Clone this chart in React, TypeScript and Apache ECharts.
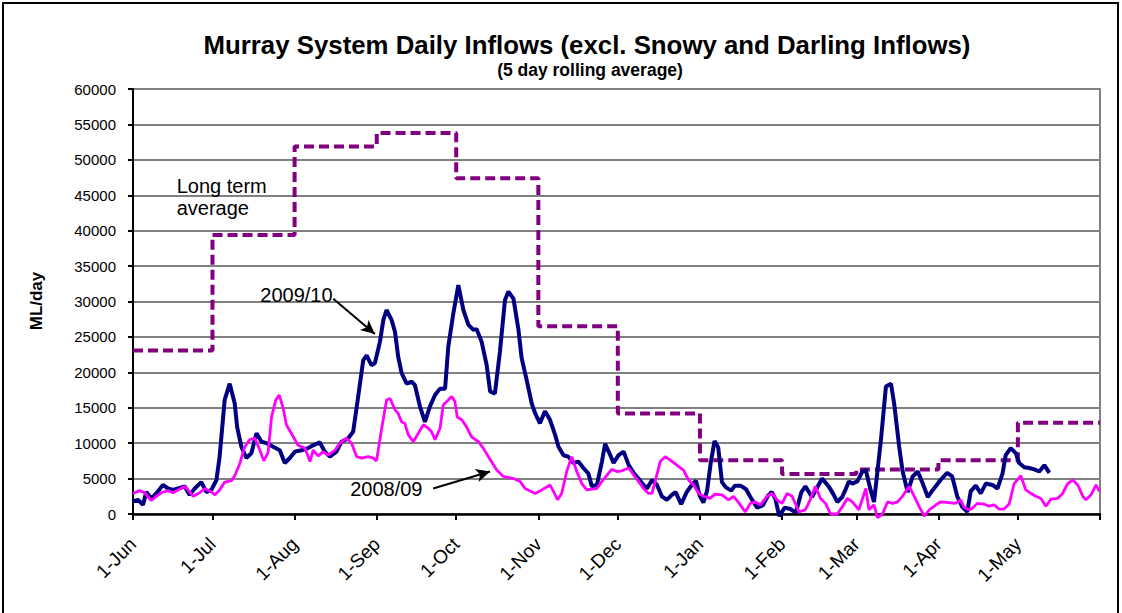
import React, { useEffect, useRef } from "react";
import * as echarts from "echarts";

const FONT = "'Liberation Sans', Arial, sans-serif";

const MONTHS = ["Jun", "Jul", "Aug", "Sep", "Oct", "Nov", "Dec", "Jan", "Feb", "Mar", "Apr", "May"];
const MONTH_DAYS = [30, 31, 31, 30, 31, 30, 31, 31, 28, 31, 30, 31];
const LTA_MONTHLY = [23100, 39400, 51900, 53800, 47400, 26500, 14200, 7600, 5650, 6300, 7600, 12900];

// [day since 1-Jun, ML/day]
const INFLOW_2009_10: [number, number][] = [
  [0, 1800], [1.9, 2000], [3.8, 1300], [5, 3100], [6.9, 2200], [8.8, 2900], [11.3, 4100], [13.2, 3600],
  [15.1, 3400], [17, 3600], [19.5, 3900], [21.4, 2700], [23.3, 3600], [25.8, 4500], [27.7, 3100], [29.6, 3400],
  [31.5, 4800], [32.7, 8100], [34.6, 16100], [36.5, 18400], [38.4, 15600], [39.3, 12300], [40.9, 9500], [42.8, 7900],
  [44.7, 8600], [46.6, 11400], [48.5, 10200], [50.4, 10000], [52.9, 9500], [55.4, 9000], [57.3, 7200], [59.2, 7900],
  [61.1, 8800], [63.6, 9000], [66.1, 9300], [68, 9700], [70.5, 10100], [72.4, 8800], [74.3, 8100], [76.8, 8800],
  [78.7, 10200], [81.2, 10700], [83.1, 11600], [85, 16600], [86.9, 21700], [88.2, 22400], [90, 21000], [91.3, 21300],
  [93.2, 24300], [94.5, 27400], [95.7, 28800], [97.6, 27400], [98.9, 25700], [100.1, 22200], [101.4, 19900], [103.3, 18400],
  [105.2, 18700], [106.4, 18200], [108.3, 15200], [110.2, 13000], [112.1, 15200], [114, 16800], [115.9, 17700], [117.8, 17700],
  [119, 23600], [120.9, 28300], [122.8, 32300], [124.7, 28800], [126.6, 26700], [128.5, 26000], [129.7, 26100], [131.6, 24300],
  [133.5, 21000], [134.8, 17300], [136.6, 17000], [138.5, 22900], [140.4, 30200], [141.7, 31400], [143.6, 30400], [145.5, 26000],
  [146.7, 22000], [148.6, 18900], [150.5, 15600], [151.8, 14200], [153.6, 12800], [155.5, 14500], [157.4, 13300], [159.3, 11200],
  [160.6, 9500], [162.5, 8300], [164.3, 8100], [166.2, 7200], [168.1, 7400], [170, 6500], [171.9, 5700], [173.2, 3900],
  [175.1, 4100], [177, 7400], [178.2, 9900], [179.8, 8600], [181.4, 7200], [183.3, 8300], [185.2, 8800], [187.1, 6900],
  [189, 5800], [190.8, 5000], [192.7, 4100], [194, 3600], [195.9, 4800], [197.8, 4100], [199.6, 2500], [201.5, 2000],
  [203.4, 2700], [204.8, 3100], [206.9, 1400], [209, 3100], [211.1, 4200], [212.5, 4700], [213.9, 2600], [215.3, 1600],
  [216.7, 3300], [218.1, 7300], [219.5, 10300], [220.9, 9400], [222.3, 4500], [223.7, 3800], [225.8, 3300], [227.2, 4000],
  [229.3, 4000], [231.4, 3500], [233.5, 2100], [235.6, 900], [237.7, 1200], [239.7, 2600], [241.1, 3100], [242.5, 2100],
  [243.9, -300], [246, 900], [248.1, 700], [250.2, 200], [252.3, 3100], [253.8, 3900], [256.3, 2400], [260.1, 5000],
  [262.6, 3900], [264.5, 2700], [265.8, 1700], [267.7, 2400], [268.9, 3400], [270.2, 4600], [271.5, 4300], [273.4, 4600],
  [275.3, 6000], [276.6, 6200], [278.4, 3400], [279.7, 1700], [282.3, 10400], [284.2, 18000], [286.1, 18400], [287.3, 15600],
  [289.2, 9500], [290.5, 6000], [292.4, 3100], [294.3, 5300], [296.2, 6000], [298.1, 4300], [300, 2400], [301.9, 3400],
  [303.8, 4300], [304.8, 4800], [307.3, 5800], [309.2, 5300], [311.1, 2500], [313, 1000], [314.9, 300], [316.2, 3200],
  [318.1, 4000], [320, 2900], [321.9, 4300], [324.4, 4100], [326.3, 3600], [328.2, 5700], [329.4, 8300], [331.3, 9300],
  [333.2, 8600], [334.5, 7200], [336.4, 6600], [338.3, 6500], [340.2, 6300], [342.1, 6000], [344, 6900], [345.9, 5800],
];

const INFLOW_2008_09: [number, number][] = [
  [0, 2900], [2.5, 3300], [4.4, 3000], [6.9, 1900], [8.8, 2500], [10.7, 3000], [13.2, 3300], [15.1, 3000],
  [17, 3400], [19.5, 3900], [20.8, 3400], [22.7, 2500], [25.2, 3000], [27.1, 3600], [29.6, 3100], [30.9, 2700],
  [32.7, 3400], [34.6, 4500], [37.2, 4700], [38.4, 5400], [40.3, 7100], [42.2, 9500], [44.1, 10500], [46, 10700],
  [47.9, 9000], [49.4, 7500], [51, 8700], [52.3, 13700], [53.9, 16100], [55.2, 16800], [56.7, 14900], [57.9, 12600],
  [60.5, 10900], [62.3, 9700], [64.9, 9300], [66.8, 7400], [68, 9000], [69.9, 8200], [71.8, 8800], [73.7, 8300],
  [76.2, 9000], [78.1, 10000], [80.6, 10700], [82.5, 10000], [84.4, 8100], [86.3, 7900], [88.8, 8100], [90.7, 7900],
  [91.9, 7500], [93.8, 11900], [95.7, 16100], [97, 16300], [98.9, 14700], [100.1, 14200], [101.4, 13000], [102.6, 12800],
  [103.9, 11200], [105.8, 10200], [107.7, 11400], [109.6, 12600], [111.5, 12100], [112.7, 11600], [114, 10500], [115.9, 12100],
  [117.1, 15400], [119, 16100], [120.3, 16600], [121.5, 15900], [122.4, 13700], [124.1, 13300], [125.9, 12300], [127.8, 10900],
  [130.4, 10200], [132.2, 9300], [134.8, 7700], [137.3, 6200], [139.8, 5300], [143.6, 5000], [146.1, 4600], [148, 3600],
  [151.8, 2900], [154.3, 3400], [157.4, 4100], [158.7, 3200], [160.3, 2000], [161.8, 2900], [163.7, 6000], [165.6, 8100],
  [167.5, 6000], [169.4, 4300], [171.3, 3400], [173.2, 3500], [175.1, 3600], [177, 4600], [178.9, 5500], [180.7, 6300],
  [182.6, 6000], [184.5, 6100], [187.1, 6500], [189, 5500], [190.8, 4600], [192.7, 3600], [194.6, 2900], [195.9, 2900],
  [197.1, 4600], [199, 7400], [200.9, 8100], [202.8, 7600], [205.3, 6900], [207.8, 6200], [209.7, 4800], [211.6, 4100],
  [213.5, 2900], [215.4, 2500], [217.8, 2200], [219.7, 2800], [222.3, 2700], [224.8, 2000], [226.7, 2500], [228.6, 1600],
  [231.1, 300], [233, 1500], [234.9, 1700], [236.8, 1300], [239.3, 2500], [241.2, 2900], [243.1, 2000], [245, 1500],
  [246.9, 2900], [248.8, 2500], [251.3, 300], [253.8, 600], [255.6, 2000], [257.6, 3900], [259.5, 2200], [261.4, 1500],
  [263.3, 0], [265.8, 0], [267.7, 1000], [269.6, 2200], [271.5, 1700], [274, 600], [276.6, 3600], [277.8, 600],
  [279.7, 1300], [281, -500], [282.9, 0], [284.8, 1700], [286.7, 1500], [288.6, 1700], [290.4, 2500], [293, 3900],
  [294.9, 2500], [296.8, 1000], [298.7, -300], [300.6, 600], [303.1, 1300], [304.8, 1700], [307.9, 1600], [310.4, 1500],
  [312.4, 2000], [313.6, 1000], [315.5, 600], [316.8, 800], [318.7, 1500], [321.2, 1400], [323.1, 1100], [325, 1300],
  [326.9, 700], [328.8, 700], [330.7, 1400], [332.6, 4300], [335.1, 5400], [337, 3400], [338.9, 2900], [340.8, 2500],
  [342.7, 2200], [344.6, 1100], [346.5, 2100], [349, 2200], [350.9, 2900], [352.8, 4300], [354.7, 4800], [356.6, 4100],
  [358.5, 2500], [359.7, 2000], [361.6, 2700], [363.5, 4100], [364.8, 3200],
];

// annotation anchors in data coordinates [day, value]
const LABEL_2009 = [61.7, 30900];
const ARROW_2009 = [[75.6, 30400], [91.3, 25400]];
const LABEL_2008 = [95.6, 3600];
const ARROW_2008 = [[113.3, 3600], [134.8, 6000]];
const LABEL_LTA = [16.5, 44700];

export default function App() {
  const ref = useRef<HTMLDivElement>(null);

  useEffect(() => {
    if (!ref.current) return;
    const chart = echarts.init(ref.current, null, { renderer: "svg" });

    const dayLabels: string[] = [];
    const monthStarts: number[] = [];
    let idx = 0;
    MONTHS.forEach((m, i) => {
      monthStarts.push(idx);
      for (let d = 1; d <= MONTH_DAYS[i]; d++) {
        dayLabels.push(`${d}-${m}`);
        idx++;
      }
    });
    const totalDays = idx; // 365
    dayLabels.push("1-Jun");

    const ltaData: [number, number][] = monthStarts.map((s, i) => [s, LTA_MONTHLY[i]]);
    ltaData.push([totalDays, LTA_MONTHLY[LTA_MONTHLY.length - 1]]);

    const isMonthStart = (_i: number, v: string) => typeof v === "string" && v.startsWith("1-");

    const labelStyle = { color: "#000", fontFamily: FONT, fontSize: 20 };

    chart.setOption({
      animation: false,
      backgroundColor: "#fff",
      textStyle: { fontFamily: FONT },
      grid: {
        left: 133,
        right: 22,
        top: 89,
        bottom: 99,
        show: true,
        borderColor: "#808080",
        borderWidth: 2,
        backgroundColor: "transparent",
      },
      graphic: [
        {
          type: "rect",
          shape: { x: 3, y: 3, width: 1115, height: 700 },
          style: { fill: "none", stroke: "#000", lineWidth: 2 },
          silent: true,
        },
        {
          type: "text",
          x: 587,
          y: 45,
          style: {
            text: "Murray System Daily Inflows (excl. Snowy and Darling Inflows)",
            fontFamily: FONT,
            fontWeight: "bold",
            fontSize: 25.8,
            fill: "#000",
            textAlign: "center",
            textVerticalAlign: "middle",
          },
        },
        {
          type: "text",
          x: 590,
          y: 70,
          style: {
            text: "(5 day rolling average)",
            fontFamily: FONT,
            fontWeight: "bold",
            fontSize: 17.5,
            fill: "#000",
            textAlign: "center",
            textVerticalAlign: "middle",
          },
        },
        {
          type: "text",
          x: 36,
          y: 301,
          rotation: Math.PI / 2,
          style: {
            text: "ML/day",
            fontFamily: FONT,
            fontWeight: "bold",
            fontSize: 17,
            fill: "#000",
            textAlign: "center",
            textVerticalAlign: "middle",
          },
        },
      ],
      xAxis: [
        { type: "value", min: 0, max: totalDays, show: false, position: "top" },
        {
          type: "category",
          position: "bottom",
          data: dayLabels,
          boundaryGap: false,
          axisLine: { show: true, lineStyle: { color: "#000", width: 2.5 } },
          axisTick: { show: true, interval: isMonthStart, length: 6, lineStyle: { color: "#000", width: 2 } },
          axisLabel: {
            interval: (i: number, v: string) => isMonthStart(i, v) && i < totalDays,
            rotate: 45,
            fontSize: 19,
            color: "#000",
            fontFamily: FONT,
            margin: 27,
          },
          splitLine: { show: false },
        },
      ],
      yAxis: {
        type: "value",
        min: 0,
        max: 60000,
        interval: 5000,
        axisLine: { show: true, lineStyle: { color: "#000", width: 2 } },
        axisTick: { show: true, length: 5, lineStyle: { color: "#000", width: 2 } },
        axisLabel: {
          fontSize: 15,
          color: "#000",
          fontFamily: FONT,
          margin: 17,
          formatter: (v: number) => String(v),
        },
        splitLine: { show: true, lineStyle: { color: "#808080", width: 2 } },
      },
      series: [
        {
          name: "Long term average",
          type: "line",
          xAxisIndex: 0,
          data: ltaData,
          step: "end",
          symbol: "none",
          clip: false,
          lineStyle: { color: "#800080", width: 4, type: [10, 5] },
          markPoint: {
            silent: true,
            symbol: "circle",
            symbolSize: 0,
            data: [
              {
                coord: LABEL_LTA,
                label: {
                  show: true,
                  position: "inside",
                  align: "left",
                  verticalAlign: "middle",
                  formatter: "Long term\naverage",
                  lineHeight: 22,
                  ...labelStyle,
                },
              },
            ],
          },
        },
        {
          name: "2009/10",
          type: "line",
          xAxisIndex: 0,
          data: INFLOW_2009_10,
          symbol: "none",
          clip: false,
          lineStyle: { color: "#000080", width: 4 },
          markLine: {
            silent: true,
            symbol: ["none", "arrow"],
            symbolSize: [10, 14],
            label: { show: false },
            lineStyle: { color: "#000", width: 2, type: "solid" },
            data: [
              [{ coord: ARROW_2009[0] }, { coord: ARROW_2009[1] }],
              [{ coord: ARROW_2008[0] }, { coord: ARROW_2008[1] }],
            ],
          },
          markPoint: {
            silent: true,
            symbol: "circle",
            symbolSize: 0,
            data: [
              { coord: LABEL_2009, label: { show: true, position: "inside", formatter: "2009/10", ...labelStyle } },
              { coord: LABEL_2008, label: { show: true, position: "inside", formatter: "2008/09", ...labelStyle } },
            ],
          },
        },
        {
          name: "2008/09",
          type: "line",
          xAxisIndex: 0,
          data: INFLOW_2008_09,
          symbol: "none",
          clip: false,
          lineStyle: { color: "#FF00FF", width: 2.8 },
        },
      ],
    });

    return () => chart.dispose();
  }, []);

  return (
    <div
      ref={ref}
      style={{ position: "fixed", left: 0, top: 0, width: 1122, height: 613, background: "#fff" }}
    />
  );
}
